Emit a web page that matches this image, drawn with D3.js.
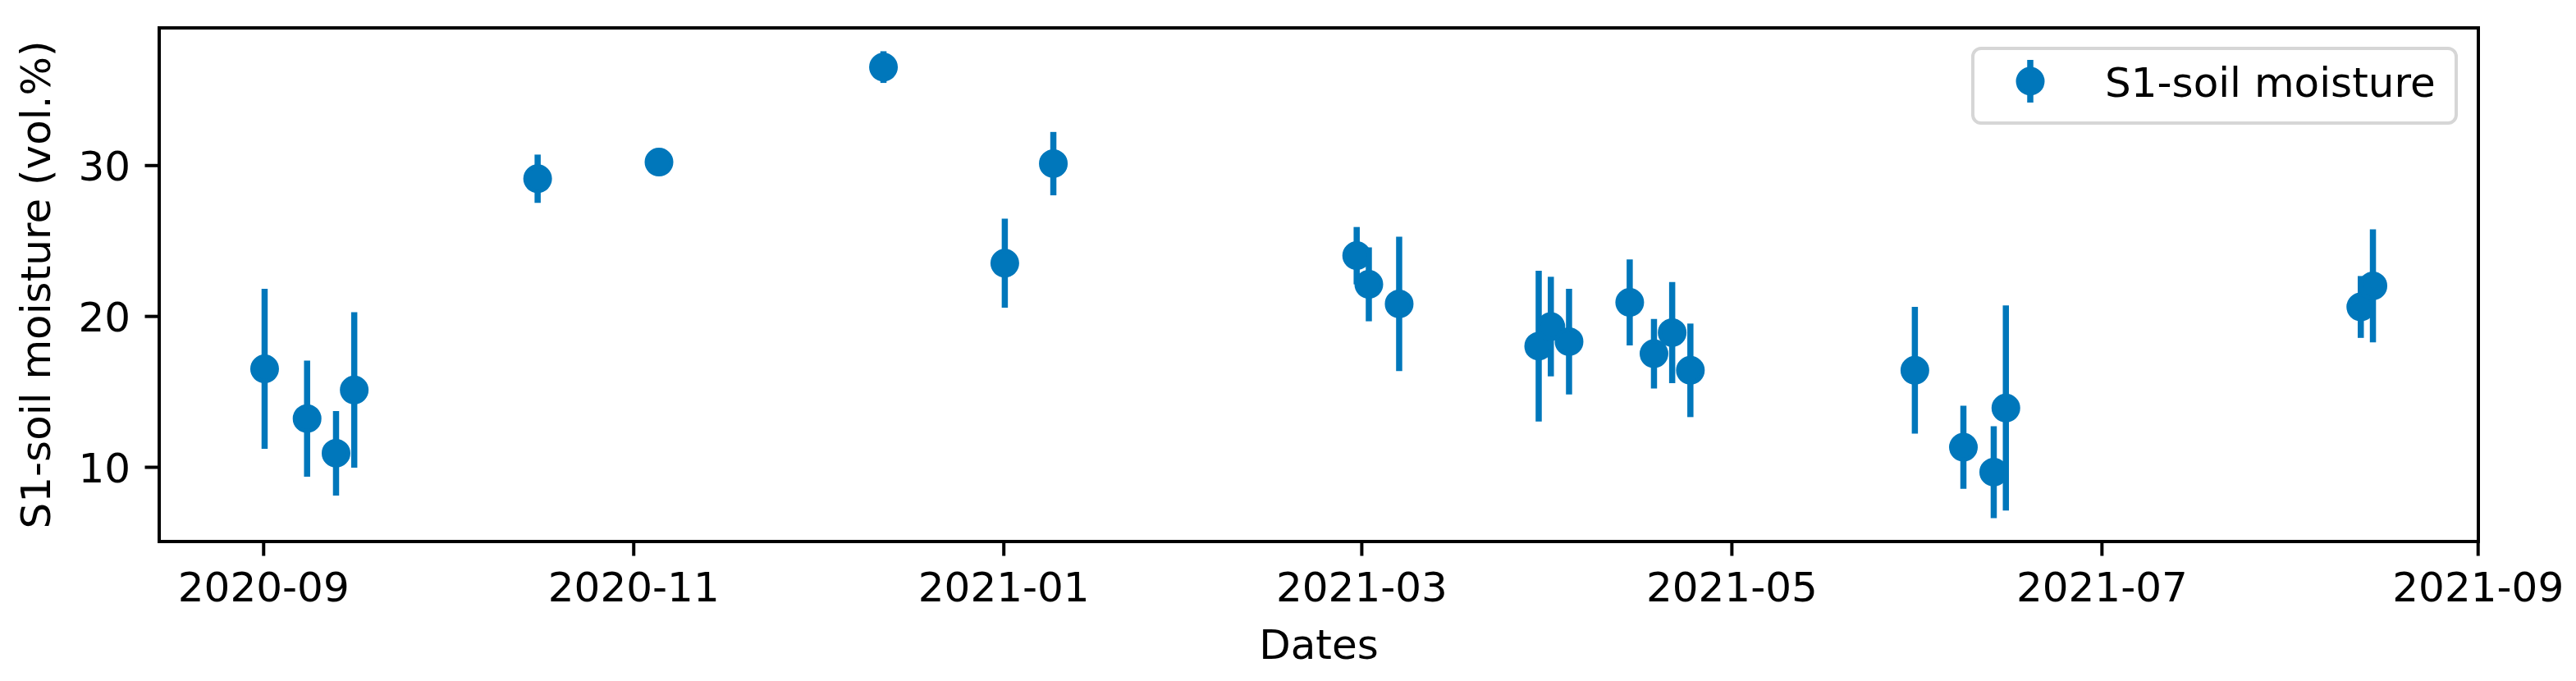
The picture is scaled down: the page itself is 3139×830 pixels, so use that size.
<!DOCTYPE html>
<html>
<head>
<meta charset="utf-8">
<script src="https://cdn.jsdelivr.net/npm/d3@7"></script>
<style>
  body { margin: 0; background: #fff; }
  text { font-family: "DejaVu Sans", sans-serif; }
</style>
</head>
<body>
<script>
// S1 soil moisture acquisitions (date, mean, std)
var dates = ["2020-09-01 05:30", "2020-09-08 05:30", "2020-09-13 00:00", "2020-09-16 00:00", "2020-10-16 05:30",
             "2020-11-05 05:30", "2020-12-12 05:30", "2021-01-01 05:30", "2021-01-09 05:30", "2021-02-28 05:30",
             "2021-03-02 05:30", "2021-03-07 05:30", "2021-03-30 05:30", "2021-04-01 05:30", "2021-04-04 05:30",
             "2021-04-14 05:30", "2021-04-18 05:30", "2021-04-21 05:30", "2021-04-24 05:30", "2021-05-31 05:30",
             "2021-06-08 05:30", "2021-06-13 05:30", "2021-06-15 05:30", "2021-08-12 17:30", "2021-08-14 17:30"];
var moisture = [16.5, 13.2, 10.9, 15.1, 29.1,
                30.2, 36.5, 23.5, 30.1, 24.0,
                22.1, 20.8, 18.0, 19.3, 18.3,
                20.9, 17.5, 18.9, 16.4, 16.4,
                11.3, 9.65, 13.9, 20.6, 22.0];
var moistureErr = [5.3, 3.85, 2.8, 5.15, 1.6,
                   0.4, 1.05, 2.95, 2.1, 1.9,
                   2.45, 4.45, 5.0, 3.3, 3.5,
                   2.85, 2.3, 3.35, 3.1, 4.2,
                   2.75, 3.05, 6.8, 2.05, 3.75];
var yTicks = [10, 20, 30];
var seriesName = "S1-soil moisture";

var svg_width = 3139;
var svg_height = 830;
var color = "#0077bb";
var fs = 50;

var parse = d3.timeParse("%Y-%m-%d %H:%M");
var data = dates.map(function(d, i) {
  return {date: parse(d), value: moisture[i], err: moistureErr[i]};
});

var plotLeft = 194, plotRight = 3020, plotTop = 34, plotBottom = 660;

var svg = d3.select('body').append('svg')
            .attr('width', svg_width)
            .attr('height', svg_height);

svg.append("rect").attr("width", svg_width).attr("height", svg_height).attr("fill", "#fff");

// matplotlib-like 5% margins
var xExt = d3.extent(data, d => d.date);
var xPad = (xExt[1] - xExt[0]) * 0.05;
var x = d3.scaleTime()
          .domain([new Date(+xExt[0] - xPad), new Date(+xExt[1] + xPad)])
          .range([plotLeft, plotRight]);

var yMin = d3.min(data, d => d.value - d.err);
var yMax = d3.max(data, d => d.value + d.err);
var yPad = (yMax - yMin) * 0.05;
var y = d3.scaleLinear()
          .domain([yMin - yPad, yMax + yPad])
          .range([plotBottom, plotTop]);

// error bars
svg.append("g")
   .selectAll("line")
   .data(data)
   .enter().append("line")
   .attr("x1", d => x(d.date))
   .attr("x2", d => x(d.date))
   .attr("y1", d => y(d.value - d.err))
   .attr("y2", d => y(d.value + d.err))
   .attr("stroke", color)
   .attr("stroke-width", 7.5);

// markers
svg.append("g")
   .selectAll("circle")
   .data(data)
   .enter().append("circle")
   .attr("cx", d => x(d.date))
   .attr("cy", d => y(d.value))
   .attr("r", 15)
   .attr("fill", color)
   .attr("stroke", color)
   .attr("stroke-width", 5);

// axes
var xAxis = svg.append("g")
   .attr("transform", "translate(0," + plotBottom + ")")
   .call(d3.axisBottom(x)
           .ticks(d3.timeMonth.every(2))
           .tickFormat(d3.timeFormat("%Y-%m"))
           .tickSizeOuter(0)
           .tickSize(17.5));
xAxis.select(".domain").remove();
xAxis.selectAll("line").attr("stroke", "#000").attr("stroke-width", 4);
xAxis.selectAll("text")
     .attr("y", 73).attr("dy", 0)
     .attr("fill", "#000")
     .style("font-size", fs + "px")
     .style("font-family", "DejaVu Sans");

var yAxis = svg.append("g")
   .attr("transform", "translate(" + plotLeft + ",0)")
   .call(d3.axisLeft(y)
           .tickValues(yTicks)
           .tickSizeOuter(0)
           .tickSize(17.5)
           .tickPadding(17.5));
yAxis.select(".domain").remove();
yAxis.selectAll("line").attr("stroke", "#000").attr("stroke-width", 4);
yAxis.selectAll("text")
     .attr("dy", "0.36em")
     .attr("fill", "#000")
     .style("font-size", fs + "px")
     .style("font-family", "DejaVu Sans");

// frame
svg.append("rect")
   .attr("x", plotLeft).attr("y", plotTop)
   .attr("width", plotRight - plotLeft).attr("height", plotBottom - plotTop)
   .attr("fill", "none")
   .attr("stroke", "#000")
   .attr("stroke-width", 4);

// axis labels
svg.append("text")
   .attr("x", (plotLeft + plotRight) / 2)
   .attr("y", 803)
   .attr("text-anchor", "middle")
   .style("font-size", fs + "px")
   .text("Dates");

svg.append("text")
   .attr("transform", "translate(61," + (plotTop + plotBottom) / 2 + ") rotate(-90)")
   .attr("text-anchor", "middle")
   .style("font-size", fs + "px")
   .text("S1-soil moisture (vol.%)");

// legend
var lg = svg.append("g");
lg.append("rect")
  .attr("x", 2404).attr("y", 59)
  .attr("width", 2993 - 2404).attr("height", 150 - 59)
  .attr("rx", 10).attr("ry", 10)
  .attr("fill", "#fff").attr("fill-opacity", 0.8)
  .attr("stroke", "#d6d6d6").attr("stroke-width", 4);
lg.append("line")
  .attr("x1", 2474).attr("x2", 2474)
  .attr("y1", 73).attr("y2", 125)
  .attr("stroke", color).attr("stroke-width", 7.5);
lg.append("circle")
  .attr("cx", 2474).attr("cy", 99).attr("r", 15)
  .attr("fill", color).attr("stroke", color).attr("stroke-width", 5);
lg.append("text")
  .attr("x", 2565).attr("y", 118)
  .style("font-size", fs + "px")
  .text(seriesName);
</script>
</body>
</html>
